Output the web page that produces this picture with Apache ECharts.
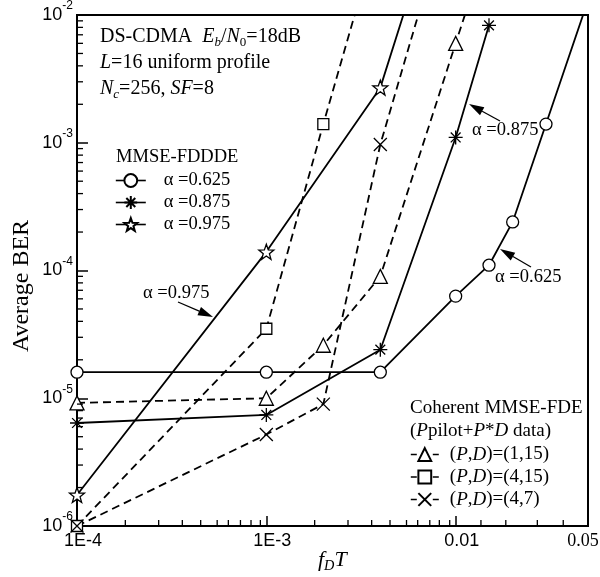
<!DOCTYPE html>
<html>
<head>
<meta charset="utf-8">
<script src="https://cdn.jsdelivr.net/npm/echarts@6/dist/echarts.min.js"></script>
<style>
  html, body { margin: 0; padding: 0; background: #fff; }
  #chart { width: 600px; height: 577px; }
</style>
</head>
<body>
<div id="chart"></div>
<script>
// values (x = f_D*T, y = average BER)
const fdt625 = [1e-4, 1e-3, 4e-3, 0.01, 0.015, 0.02, 0.03, 0.05];
const ber625 = [1.6e-5, 1.6e-5, 1.6e-5, 6.3e-5, 1.1e-4, 2.4e-4, 1.4e-3, 1.3e-2];
const fdt875 = [1e-4, 1e-3, 4e-3, 0.01, 0.015];
const ber875 = [6.4e-6, 7.4e-6, 2.4e-5, 1.1e-3, 8.3e-3];
const fdt975 = [1e-4, 1e-3, 4e-3, 6e-3];
const ber975 = [1.75e-6, 1.4e-4, 2.7e-3, 1.8e-2];

const fdtP1D15 = [1e-4, 1e-3, 2e-3, 4e-3, 0.01, 0.015];
const berP1D15 = [9.2e-6, 1.0e-5, 2.6e-5, 9.0e-5, 6.0e-3, 3.8e-2];
const fdtP4D15 = [1e-4, 1e-3, 2e-3, 4e-3];
const berP4D15 = [1.0e-6, 3.5e-5, 1.4e-3, 5.0e-2];
const fdtP4D7 = [1e-4, 1e-3, 2e-3, 4e-3, 0.01];
const berP4D7 = [1.0e-6, 5.2e-6, 9.0e-6, 9.7e-4, 1.0e-1];

const xTickValues = [1e-4, 1e-3, 0.01, 0.05];
const xTickLabels = ['1E-4', '1E-3', '0.01', '0.05'];
const yTickValues = [1e-6, 1e-5, 1e-4, 1e-3, 1e-2];
const yTickExps = ['-6', '-5', '-4', '-3', '-2'];
const xMinorTicks = [1.8e-4, 2.7e-4, 3.6e-4, 4.5e-4, 5.5e-4, 6.3e-4, 7.3e-4, 8.3e-4, 9.3e-4,
  1.8e-3, 2.7e-3, 3.6e-3, 4.5e-3, 5.5e-3, 6.3e-3, 7.3e-3, 8.2e-3, 9.3e-3,
  0.0136, 0.0184, 0.027, 0.037];
const yMinorTicks = [];
[1e-6, 1e-5, 1e-4, 1e-3].forEach(d => { for (let k = 2; k <= 9; k++) yMinorTicks.push(k * d); });

const SERIF = 'Liberation Serif';
const SANS = 'Liberation Sans';

const SYM = {
  circle: 'path://M0,10A10,10,0,1,0,20,10A10,10,0,1,0,0,10Z',
  asterisk: 'path://M0,10L20,10M10,0L10,20M3,3L17,17M17,3L3,17',
  star: 'path://M10,0L12.6,7.1L20,7.3L14.1,11.9L16.2,19L10,14.8L3.8,19L5.9,11.9L0,7.3L7.4,7.1Z',
  triangle: 'path://M10,0L20,17L0,17Z',
  square: 'path://M0,0L20,0L20,20L0,20Z',
  cross: 'path://M0,0L20,20M20,0L0,20'
};

function nearest(vals, v) {
  let best = 0;
  vals.forEach((t, i) => {
    if (Math.abs(Math.log10(t / v)) < Math.abs(Math.log10(vals[best] / v))) best = i;
  });
  return best;
}

function lineSeries(name, xs, ys, symbol, size, dashed) {
  return {
    name, type: 'line',
    data: xs.map((x, i) => [x, ys[i]]),
    symbol, symbolSize: size, showAllSymbol: true, clip: true,
    lineStyle: { color: '#000', width: 1.8, type: dashed ? [8, 5] : 'solid' },
    itemStyle: { color: '#fff', borderColor: '#000', borderWidth: 1.3 },
    emphasis: { disabled: true },
    z: 3
  };
}

function minorTicks(vals, horizontal) {
  return {
    type: 'custom', silent: true, z: 5, clip: false,
    data: vals.map(v => horizontal ? [1e-4, v] : [v, 1e-6]),
    renderItem: (params, api) => {
      const p = api.coord([api.value(0), api.value(1)]);
      return {
        type: 'line',
        shape: horizontal ? { x1: p[0], y1: p[1], x2: p[0] + 6, y2: p[1] }
                          : { x1: p[0], y1: p[1], x2: p[0], y2: p[1] - 6 },
        style: { stroke: '#000', lineWidth: 1.3 }
      };
    }
  };
}

function arrow(tail, tip) {
  const dx = tip[0] - tail[0], dy = tip[1] - tail[1];
  const len = Math.hypot(dx, dy), ux = dx / len, uy = dy / len;
  const bx = tip[0] - ux * 15, by = tip[1] - uy * 15;
  return [
    { type: 'line', shape: { x1: tail[0], y1: tail[1], x2: bx, y2: by }, style: { stroke: '#000', lineWidth: 1.3 } },
    { type: 'polygon', shape: { points: [tip, [bx - uy * 4.5, by + ux * 4.5], [bx + uy * 4.5, by - ux * 4.5]] }, style: { fill: '#000' } }
  ];
}

function label(x, y, text, size, align, rotation) {
  return {
    type: 'text', x, y, z: 10, rotation: rotation || 0,
    style: {
      text, fill: '#000', fontFamily: SERIF, fontSize: size, align: align || 'left', verticalAlign: 'middle',
      rich: {
        i: { fontStyle: 'italic', fontFamily: SERIF, fontSize: size },
        sb: { fontFamily: SERIF, fontSize: size * 0.65, padding: [size * 0.55, 0, 0, 0] },
        isb: { fontStyle: 'italic', fontFamily: SERIF, fontSize: size * 0.65, padding: [size * 0.55, 0, 0, 0] }
      }
    }
  };
}

const chart = echarts.init(document.getElementById('chart'));
chart.setOption({
  animation: false,
  backgroundColor: '#fff',
  grid: { left: 77, right: 12, top: 15, bottom: 51, show: true, borderColor: '#000', borderWidth: 2,
    containLabel: false, outerBoundsMode: 'none' },
  xAxis: {
    type: 'log', logBase: 10, min: 1e-4, max: 0.05,
    axisLine: { onZero: false, lineStyle: { color: '#000', width: 2 } },
    axisTick: { inside: true, length: 10, lineStyle: { color: '#000', width: 1.5 } },
    splitLine: { show: false },
    axisLabel: {
      color: '#000', margin: 6,
      showMinLabel: true, showMaxLabel: true,
      formatter: v => {
        const i = nearest(xTickValues, v);
        return i === xTickValues.length - 1 ? '{r|' + xTickLabels[i] + '}' : '{n|' + xTickLabels[i] + '}';
      },
      rich: {
        n: { fontFamily: SANS, fontSize: 18, color: '#000', padding: [0, 0, 0, 12] },
        r: { fontFamily: SERIF, fontSize: 18, color: '#000', padding: [0, 10, 0, 0] }
      }
    }
  },
  yAxis: {
    type: 'log', logBase: 10, min: 1e-6, max: 1e-2,
    axisLine: { onZero: false, lineStyle: { color: '#000', width: 2 } },
    axisTick: { inside: true, length: 11, lineStyle: { color: '#000', width: 1.5 } },
    splitLine: { show: false },
    axisLabel: {
      color: '#000', margin: 4,
      formatter: v => '{b|10}{s|' + yTickExps[nearest(yTickValues, v)] + '}',
      rich: {
        b: { fontFamily: SANS, fontSize: 18, color: '#000' },
        s: { fontFamily: SANS, fontSize: 12, color: '#000', padding: [0, 0, 18, 0] }
      }
    }
  },
  legend: [
    {
      data: ['α =0.625', 'α =0.875', 'α =0.975'],
      orient: 'vertical', left: 115, top: 171, padding: 0,
      itemWidth: 30, itemHeight: 16, itemGap: 3, selectedMode: false,
      lineStyle: { width: 1.6 },
      textStyle: { fontFamily: SERIF, fontSize: 18.5, color: '#000', padding: [0, 0, 0, 13] }
    },
    {
      data: ['(P,D)=(1,15)', '(P,D)=(4,15)', '(P,D)=(4,7)'],
      orient: 'vertical', left: 410, top: 445, padding: 0,
      itemWidth: 28, itemHeight: 16, itemGap: 3.5, selectedMode: false,
      lineStyle: { width: 1.6, type: [6, 16] },
      formatter: n => n.replace(/([PD])/g, '{i|$1}'),
      textStyle: { fontFamily: SERIF, fontSize: 19, color: '#000', padding: [0, 0, 0, 6],
        rich: { i: { fontFamily: SERIF, fontSize: 19, fontStyle: 'italic', color: '#000' } } }
    }
  ],
  graphic: [
    label(100, 37, 'DS-CDMA  {i|E}{isb|b}/{i|N}{sb|0}=18dB', 20),
    label(100, 63, '{i|L}=16 uniform profile', 20),
    label(100, 89, '{i|N}{isb|c}=256, {i|SF}=8', 20),
    label(116, 157, 'MMSE-FDDDE', 18.5),
    label(410, 408, 'Coherent MMSE-FDE', 19),
    label(410, 431, '({i|P}pilot+{i|P}*{i|D} data)', 19),
    label(143, 293, 'α =0.975', 18.5),
    label(472, 130, 'α =0.875', 18.5),
    label(495, 277, 'α =0.625', 18.5),
    label(22, 286, 'Average BER', 24, 'center', Math.PI / 2),
    label(318, 560, '{i|f}{isb|D}{i|T}', 22),
    ...arrow([178, 302], [213, 317]),
    ...arrow([500, 121], [469, 104]),
    ...arrow([531, 267], [500, 249])
  ],
  series: [
    lineSeries('α =0.625', fdt625, ber625, SYM.circle, 12, false),
    lineSeries('α =0.875', fdt875, ber875, SYM.asterisk, 14, false),
    lineSeries('α =0.975', fdt975, ber975, SYM.star, 15, false),
    lineSeries('(P,D)=(1,15)', fdtP1D15, berP1D15, SYM.triangle, 14, true),
    lineSeries('(P,D)=(4,15)', fdtP4D15, berP4D15, SYM.square, 11, true),
    lineSeries('(P,D)=(4,7)', fdtP4D7, berP4D7, SYM.cross, 13, true),
    minorTicks(xMinorTicks, false),
    minorTicks(yMinorTicks, true)
  ]
});
</script>
</body>
</html>
